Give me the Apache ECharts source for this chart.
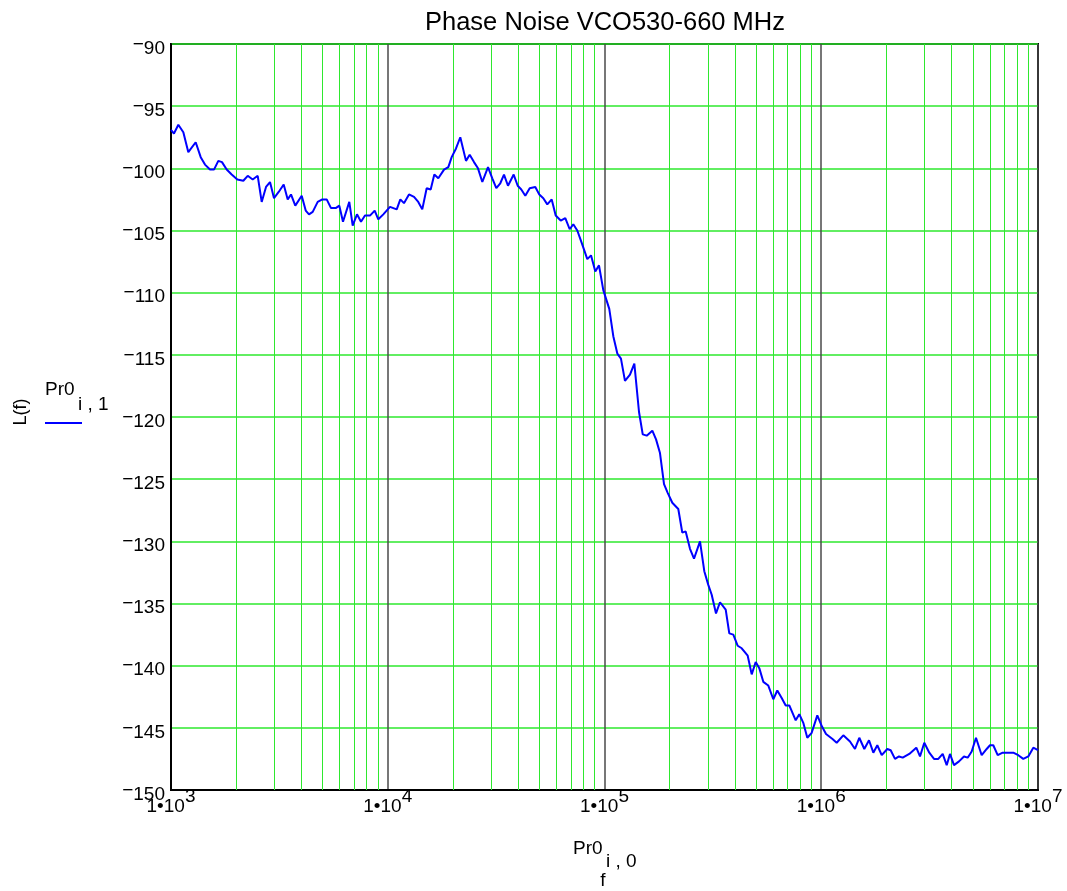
<!DOCTYPE html>
<html>
<head>
<meta charset="utf-8">
<script src="https://cdn.jsdelivr.net/npm/echarts@6/dist/echarts.min.js"></script>
<style>
  html, body { margin: 0; padding: 0; background: #ffffff; }
  #chart { width: 1067px; height: 891px; }
</style>
</head>
<body>
<div id="chart"></div>
<script>
// Offset frequency from the carrier, Hz
const freqHz = [
  1000, 1032, 1081, 1140, 1202, 1300, 1371, 1435, 1513, 1579,
  1653, 1719, 1807, 1905, 2023, 2156, 2259, 2382, 2512, 2621,
  2744, 2863, 2987, 3139, 3311, 3455, 3578, 3745, 4009, 4183,
  4332, 4506, 4751, 4990, 5228, 5473, 5753, 5977, 6215, 6646,
  6891, 7212, 7526, 7852, 8280, 8705, 9044, 9539, 10240, 11000,
  11430, 11880, 12530, 13220, 13830, 14430, 15120, 15780, 16400, 17110,
  18180, 19030, 19720, 20650, 21610, 22960, 23880, 25000, 26080, 27310,
  29010, 30360, 31680, 33050, 34380, 35870, 38110, 39770, 41320, 43110,
  45170, 47940, 50030, 52200, 54460, 57070, 59550, 62790, 65940, 69090,
  71790, 74900, 78490, 83300, 86640, 90700, 94320, 98730, 105200, 109800,
  114600, 119100, 124300, 131100, 137300, 144300, 150100, 156600, 166200, 172900,
  180300, 188200, 195700, 205500, 219000, 228500, 236900, 248000, 258800, 275800,
  288700, 301200, 312300, 326900, 341100, 362400, 376500, 392900, 411700, 429600,
  457800, 477700, 498400, 517800, 540300, 569800, 600900, 627000, 656900, 685500,
  712200, 762300, 791900, 826300, 862200, 903500, 958900, 1008000, 1052000, 1127000,
  1178000, 1264000, 1357000, 1431000, 1498000, 1580000, 1661000, 1739000, 1814000, 1901000,
  2017000, 2091000, 2189000, 2284000, 2376000, 2548000, 2745000, 2855000, 2988000, 3151000,
  3313000, 3467000, 3633000, 3791000, 3926000, 4097000, 4321000, 4555000, 4738000, 4944000,
  5175000, 5498000, 5798000, 6005000, 6219000, 6516000, 6871000, 7294000, 7691000, 8111000,
  8553000, 9022000, 9513000, 10000000
];

// Single-sideband phase noise L(f), dBc/Hz
const noiseDbc = [
  -96.9, -97.2, -96.5, -97.1, -98.7, -97.9, -99.1, -99.7, -100.1, -100.1,
  -99.4, -99.5, -100.1, -100.5, -100.9, -101.0, -100.6, -100.9, -100.6, -102.7,
  -101.5, -101.1, -102.4, -101.9, -101.3, -102.5, -102.1, -103.0, -102.2, -103.4,
  -103.7, -103.5, -102.7, -102.5, -102.5, -103.2, -103.2, -103.0, -104.3, -102.7,
  -104.6, -103.7, -104.3, -103.8, -103.8, -103.4, -104.1, -103.7, -103.1, -103.3,
  -102.5, -102.8, -102.1, -102.3, -102.7, -103.3, -101.6, -101.7, -100.5, -100.8,
  -100.1, -99.9, -99.1, -98.4, -97.5, -99.4, -98.9, -99.5, -100.0, -101.1,
  -99.9, -100.8, -101.6, -101.2, -100.5, -101.4, -100.5, -101.4, -101.7, -102.2,
  -101.6, -101.5, -102.1, -102.4, -102.9, -102.5, -103.8, -104.2, -104.0, -104.9,
  -104.5, -105.0, -106.0, -107.3, -107.0, -108.3, -107.8, -109.8, -111.3, -113.5,
  -114.9, -115.3, -117.1, -116.6, -115.7, -119.6, -121.4, -121.5, -121.1, -121.8,
  -122.9, -125.4, -126.1, -126.9, -127.4, -129.3, -129.2, -130.6, -131.4, -130.0,
  -132.4, -133.5, -134.3, -135.8, -134.9, -135.5, -137.4, -137.5, -138.4, -138.6,
  -139.2, -140.7, -139.7, -140.2, -141.3, -141.6, -142.7, -142.0, -142.6, -143.2,
  -143.2, -144.4, -143.9, -144.6, -145.8, -145.4, -144.0, -144.9, -145.5, -145.9,
  -146.2, -145.6, -146.1, -146.7, -145.8, -146.7, -146.0, -147.0, -146.4, -147.2,
  -146.7, -146.8, -147.5, -147.3, -147.4, -147.1, -146.6, -147.3, -146.2, -147.0,
  -147.5, -147.5, -147.1, -148.0, -147.1, -148.0, -147.7, -147.3, -147.4, -146.9,
  -145.8, -147.2, -146.7, -146.4, -146.4, -147.2, -147.0, -147.0, -147.0, -147.2,
  -147.5, -147.3, -146.6, -146.8
];

// Axis ranges
const freqMin = 1e3;
const freqMax = 1e7;
const levelMin = -150;
const levelMax = -90;
const levelStep = 5;

// Intermediate 2..9 grid lines within each decade
const minorMultipliers = [2, 3, 4, 5, 6, 7, 8, 9];
const minorGrid = [];
for (let dec = freqMin; dec < freqMax; dec *= 10) {
  minorMultipliers.forEach(m => minorGrid.push(m * dec));
}

const FONT = '"Liberation Sans", Arial, sans-serif';
const GREEN = '#2ee82e';

const chart = echarts.init(document.getElementById('chart'), null, { renderer: 'canvas' });

chart.setOption({
  animation: false,
  backgroundColor: '#ffffff',
  grid: {
    left: 171, right: 29, top: 44, bottom: 101,
    show: true, borderColor: '#000000', borderWidth: 2, backgroundColor: 'transparent'
  },
  xAxis: {
    type: 'log',
    logBase: 10,
    min: freqMin,
    max: freqMax,
    axisLine: { show: true, lineStyle: { color: '#000000', width: 2 } },
    axisTick: { show: false },
    minorTick: { show: false },
    splitLine: { show: true, lineStyle: { color: '#4a4a4a', width: 1.5 } },
    axisLabel: {
      show: true,
      margin: -3,
      showMinLabel: true,
      showMaxLabel: true,
      hideOverlap: false,
      // "1•10" with the exponent raised as a superscript
      formatter: v => '{b|1\u202210}{s|' + Math.round(Math.log10(v)) + '}',
      rich: {
        b: { fontFamily: FONT, fontSize: 19, color: '#000' },
        s: { fontFamily: FONT, fontSize: 19, color: '#000', padding: [0, 0, 20, 0] }
      }
    }
  },
  yAxis: {
    type: 'value',
    min: levelMin,
    max: levelMax,
    interval: levelStep,
    axisLine: { show: true, lineStyle: { color: '#000000', width: 2 } },
    axisTick: { show: false },
    splitLine: { show: true, lineStyle: { color: GREEN, width: 1.5 } },
    axisLabel: {
      margin: 6,
      // raised minus sign followed by the magnitude
      formatter: v => '{m|\u2212}{d|' + Math.abs(v) + '}',
      rich: {
        m: { fontFamily: FONT, fontSize: 19, color: '#000', padding: [1, 0, 0, 0] },
        d: { fontFamily: FONT, fontSize: 19, color: '#000', padding: [9, 0, 0, 0] }
      }
    }
  },
  series: [
    {
      // minor frequency grid lines
      type: 'line',
      data: [],
      z: 1,
      markLine: {
        silent: true,
        animation: false,
        symbol: ['none', 'none'],
        label: { show: false },
        emphasis: { disabled: true },
        lineStyle: { color: GREEN, width: 1, type: 'solid' },
        data: minorGrid.map(v => ({ xAxis: v }))
      }
    },
    {
      name: 'Pr0',
      type: 'line',
      z: 5,
      showSymbol: false,
      symbol: 'none',
      lineStyle: { color: '#0000ff', width: 2 },
      emphasis: { disabled: true },
      data: freqHz.map((f, i) => [f, noiseDbc[i]])
    }
  ],
  graphic: [
    {
      type: 'text', x: 605, y: 23,
      style: { text: 'Phase Noise VCO530-660 MHz', font: '25.5px ' + FONT, fill: '#000',
               align: 'center', verticalAlign: 'middle' }
    },
    {
      type: 'text', x: 21, y: 412, rotation: Math.PI / 2,
      style: { text: 'L(f)', font: '18px ' + FONT, fill: '#000', align: 'center', verticalAlign: 'middle' }
    },
    {
      type: 'text', x: 45, y: 390,
      style: { text: 'Pr0', font: '19px ' + FONT, fill: '#000', align: 'left', verticalAlign: 'middle' }
    },
    {
      type: 'text', x: 78, y: 405,
      style: { text: 'i , 1', font: '19px ' + FONT, fill: '#000', align: 'left', verticalAlign: 'middle' }
    },
    {
      type: 'line',
      shape: { x1: 45, y1: 423, x2: 82, y2: 423 },
      style: { stroke: '#0000ff', lineWidth: 2 }
    },
    {
      type: 'text', x: 573, y: 849,
      style: { text: 'Pr0', font: '19px ' + FONT, fill: '#000', align: 'left', verticalAlign: 'middle' }
    },
    {
      type: 'text', x: 606, y: 862,
      style: { text: 'i , 0', font: '19px ' + FONT, fill: '#000', align: 'left', verticalAlign: 'middle' }
    },
    {
      type: 'text', x: 603, y: 881,
      style: { text: 'f', font: '19px ' + FONT, fill: '#000', align: 'center', verticalAlign: 'middle' }
    }
  ]
});
</script>
</body>
</html>
